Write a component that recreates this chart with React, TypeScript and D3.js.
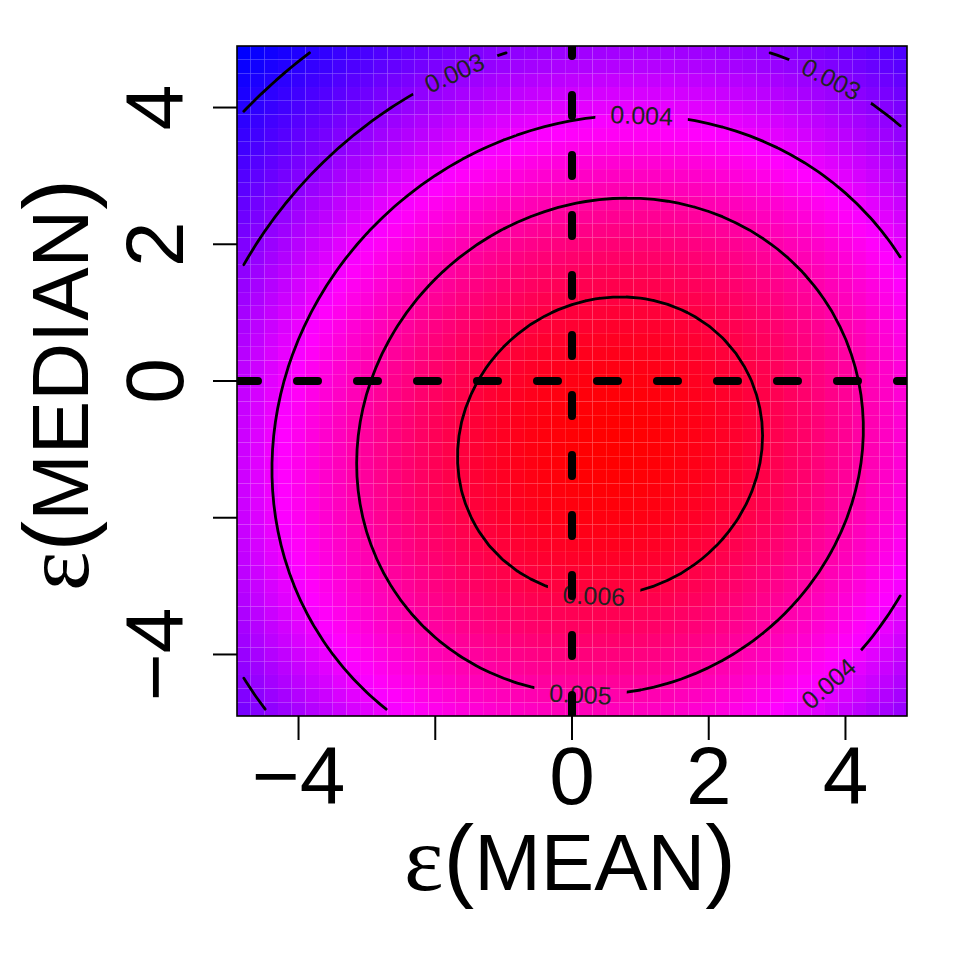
import React from 'react';
import * as d3 from 'd3';

// ---- data ----
const gridCenters = d3.range(49).map((i) => -4.8 + 0.2 * i); // image cell centres (x and y)
const densityMean = [0.556, -0.955];
const densitySd = [4.9, 4.8];
const densityRho = 0.07;
const densityPeak = 0.006656;
const contourLevels = [0.002, 0.003, 0.004, 0.005, 0.006];
const labelLevels = [0.003, 0.003, 0.004, 0.004, 0.005, 0.006];
const labelAnchorX = [-1.71, 3.8, 1.02, 3.75, 0.12, 0.32];
const labelAnchorY = [4.48, 4.43, 3.89, -4.42, -4.62, -3.12];
const xTicks = [-4, -2, 0, 2, 4];
const xTickLabels = ['\u22124', '', '0', '2', '4'];
const yTicks = [-4, -2, 0, 2, 4];
const yTickLabels = ['\u22124', '', '0', '2', '4'];
const rampColors = ['#0000ff', '#ff00ff', '#ff0000'];
const refLines = [0];

const W = 954;
const H = 954;
const L = 237, R = 907, T = 46, B = 716;
const SANS = 'Liberation Sans, Arial, Helvetica, sans-serif';
const SERIF = 'Liberation Serif, DejaVu Serif, serif';

function density(x: number, y: number) {
  const [mx, my] = densityMean;
  const [sx, sy] = densitySd;
  const r = densityRho;
  const u = (x - mx) / sx;
  const v = (y - my) / sy;
  const q = (u * u + v * v - 2 * r * u * v) / (1 - r * r);
  return densityPeak * Math.exp(-q / 2);
}

type Pt = [number, number];

function isoSegments(z: number[][], xs: number[], ys: number[], level: number): [Pt, Pt][] {
  const segs: [Pt, Pt][] = [];
  const n = xs.length, m = ys.length;
  const interp = (xa: number, ya: number, za: number, xb: number, yb: number, zb: number): Pt => {
    const t = (level - za) / (zb - za);
    return [xa + t * (xb - xa), ya + t * (yb - ya)];
  };
  for (let j = 0; j < m - 1; j++) {
    for (let i = 0; i < n - 1; i++) {
      const z0 = z[j][i], z1 = z[j][i + 1], z2 = z[j + 1][i + 1], z3 = z[j + 1][i];
      const a0 = z0 >= level, a1 = z1 >= level, a2 = z2 >= level, a3 = z3 >= level;
      const x0 = xs[i], x1 = xs[i + 1], y0 = ys[j], y1 = ys[j + 1];
      const e: (Pt | null)[] = [
        a0 !== a1 ? interp(x0, y0, z0, x1, y0, z1) : null,
        a1 !== a2 ? interp(x1, y0, z1, x1, y1, z2) : null,
        a2 !== a3 ? interp(x1, y1, z2, x0, y1, z3) : null,
        a3 !== a0 ? interp(x0, y1, z3, x0, y0, z0) : null,
      ];
      const idx = [0, 1, 2, 3].filter((k) => e[k]);
      if (idx.length === 2) {
        segs.push([e[idx[0]] as Pt, e[idx[1]] as Pt]);
      } else if (idx.length === 4) {
        const c = (z0 + z1 + z2 + z3) / 4 >= level;
        if (c === a0) {
          segs.push([e[0] as Pt, e[1] as Pt]);
          segs.push([e[2] as Pt, e[3] as Pt]);
        } else {
          segs.push([e[3] as Pt, e[0] as Pt]);
          segs.push([e[1] as Pt, e[2] as Pt]);
        }
      }
    }
  }
  return segs;
}

export default function App() {
  const x = d3.scaleLinear().domain([-4.9, 4.9]).range([L, R]);
  const y = d3.scaleLinear().domain([-4.9, 4.9]).range([B, T]);

  const z = gridCenters.map((yy) => gridCenters.map((xx) => density(xx, yy)));
  const flat = z.flat();
  const zmin = d3.min(flat) as number;
  const zmax = d3.max(flat) as number;
  const color = d3
    .scaleLinear<string>()
    .domain([zmin, (zmin + zmax) / 2, zmax])
    .range(rampColors)
    .interpolate(d3.interpolateRgb);

  const half = 0.1;
  const cells: JSX.Element[] = [];
  gridCenters.forEach((yy, j) => {
    gridCenters.forEach((xx, i) => {
      const x0 = x(xx - half), x1 = x(xx + half);
      const y0 = y(yy + half), y1 = y(yy - half);
      cells.push(
        <rect key={`c${i}-${j}`} x={x0} y={y0} width={x1 - x0} height={y1 - y0} fill={color(z[j][i])} />
      );
    });
  });

  const segsByLevel = contourLevels.map((lv) => isoSegments(z, gridCenters, gridCenters, lv));
  const contourPath = segsByLevel
    .flat()
    .map((s) => `M${x(s[0][0]).toFixed(2)},${y(s[0][1]).toFixed(2)}L${x(s[1][0]).toFixed(2)},${y(s[1][1]).toFixed(2)}`)
    .join('');

  const labelFont = 25;
  const labels = labelLevels.map((lv, k) => {
    const segs = segsByLevel[contourLevels.indexOf(lv)];
    const ax = x(labelAnchorX[k]), ay = y(labelAnchorY[k]);
    let best = { d: Infinity, px: ax, py: ay, ang: 0 };
    segs.forEach((s) => {
      const x1 = x(s[0][0]), y1 = y(s[0][1]), x2 = x(s[1][0]), y2 = y(s[1][1]);
      const dx = x2 - x1, dy = y2 - y1;
      const len2 = dx * dx + dy * dy || 1e-9;
      let t = ((ax - x1) * dx + (ay - y1) * dy) / len2;
      t = Math.max(0, Math.min(1, t));
      const px = x1 + t * dx, py = y1 + t * dy;
      const d = (px - ax) ** 2 + (py - ay) ** 2;
      if (d < best.d) {
        let ang = (Math.atan2(dy, dx) * 180) / Math.PI;
        if (ang > 90) ang -= 180;
        if (ang < -90) ang += 180;
        best = { d, px, py, ang };
      }
    });
    const text = String(lv);
    return { text, ...best, w: text.length * 0.5 * labelFont };
  });

  return (
    <svg
      width={W}
      height={H}
      viewBox={`0 0 ${W} ${H}`}
      style={{ position: 'absolute', left: 0, top: 0, background: '#fff' }}
    >
      <defs>
        <clipPath id="plotClip">
          <rect x={L} y={T} width={R - L} height={B - T} />
        </clipPath>
        <mask id="labelGaps" maskUnits="userSpaceOnUse" x={0} y={0} width={W} height={H}>
          <rect x={0} y={0} width={W} height={H} fill="#fff" />
          {labels.map((lb, k) => (
            <rect
              key={k}
              x={-(lb.w + 30) / 2}
              y={-14}
              width={lb.w + 30}
              height={28}
              fill="#000"
              transform={`translate(${lb.px},${lb.py}) rotate(${lb.ang})`}
            />
          ))}
        </mask>
      </defs>
      <rect x={0} y={0} width={W} height={H} fill="#fff" />
      <g>{cells}</g>
      <g clipPath="url(#plotClip)">
        <path
          d={contourPath}
          fill="none"
          stroke="#000"
          strokeWidth={2.8}
          strokeLinecap="round"
          strokeLinejoin="round"
          mask="url(#labelGaps)"
        />
        {labels.map((lb, k) => (
          <text
            key={k}
            transform={`translate(${lb.px},${lb.py}) rotate(${lb.ang})`}
            textAnchor="middle"
            dy="0.36em"
            fontFamily={SANS}
            fontSize={labelFont}
            fill="#222"
          >
            {lb.text}
          </text>
        ))}
        {refLines.map((v, k) => (
          <g key={k}>
            <line
              x1={x(v)}
              x2={x(v)}
              y1={B}
              y2={T}
              stroke="#000"
              strokeWidth={8}
              strokeDasharray="21 39"
              strokeLinecap="round"
            />
            <line
              x1={L}
              x2={R}
              y1={y(v)}
              y2={y(v)}
              stroke="#000"
              strokeWidth={8}
              strokeDasharray="21 39"
              strokeLinecap="round"
            />
          </g>
        ))}
      </g>
      <rect x={L} y={T} width={R - L} height={B - T} fill="none" stroke="#000" strokeWidth={1.6} />
      {/* x axis */}
      {xTicks.map((t, k) => (
        <g key={`xt${k}`}>
          <line x1={x(t)} x2={x(t)} y1={B} y2={B + 24} stroke="#000" strokeWidth={2} />
          {xTickLabels[k] && (
            <text x={x(t)} y={804} textAnchor="middle" fontFamily={SANS} fontSize={82} fill="#000">
              {xTickLabels[k]}
            </text>
          )}
        </g>
      ))}
      {/* y axis */}
      {yTicks.map((t, k) => (
        <g key={`yt${k}`}>
          <line x1={L - 24} x2={L} y1={y(t)} y2={y(t)} stroke="#000" strokeWidth={2} />
          {yTickLabels[k] && (
            <text
              transform={`translate(183,${y(t)}) rotate(-90)`}
              textAnchor="middle"
              fontFamily={SANS}
              fontSize={82}
              fill="#000"
            >
              {yTickLabels[k]}
            </text>
          )}
        </g>
      ))}
      {/* axis titles */}
      <text x={570} y={890} textAnchor="middle" fontFamily={SANS} fontSize={80} fill="#000">
        <tspan fontFamily={SERIF} fontSize={94}>ε</tspan>
        <tspan fontSize={92}>(</tspan>
        <tspan>MEAN</tspan>
        <tspan fontSize={92}>)</tspan>
      </text>
      <text
        transform={`translate(88,385) rotate(-90)`}
        textAnchor="middle"
        fontFamily={SANS}
        fontSize={80}
        fill="#000"
      >
        <tspan fontFamily={SERIF} fontSize={94}>ε</tspan>
        <tspan fontSize={92}>(</tspan>
        <tspan>MEDIAN</tspan>
        <tspan fontSize={92}>)</tspan>
      </text>
    </svg>
  );
}
